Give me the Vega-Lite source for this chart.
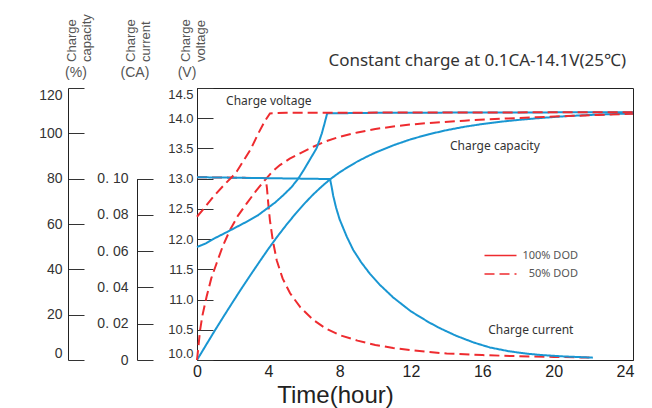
{
  "$schema": "https://vega.github.io/schema/vega-lite/v6.json",
  "width": 436,
  "height": 272,
  "autosize": {"type": "none"},
  "padding": {"left": 197, "top": 88, "right": 19, "bottom": 48},
  "background": "white",
  "config": {
    "view": {"stroke": "#222", "strokeWidth": 1},
    "axis": {"grid": false, "domainColor": "#222", "tickColor": "#333", "labelColor": "#333", "labelFont": "Liberation Sans"}
  },
  "datasets": {
    "capacity": [
      {"dod": "100% DOD", "t": 0, "value": 0}, {"dod": "100% DOD", "t": 0.5, "value": 6.5}, {"dod": "100% DOD", "t": 1, "value": 13}, {"dod": "100% DOD", "t": 1.5, "value": 19.3}, {"dod": "100% DOD", "t": 2, "value": 25.5}, {"dod": "100% DOD", "t": 2.5, "value": 31.6}, {"dod": "100% DOD", "t": 3, "value": 37.5}, {"dod": "100% DOD", "t": 3.5, "value": 43.3}, {"dod": "100% DOD", "t": 4, "value": 49}, {"dod": "100% DOD", "t": 4.5, "value": 54.4}, {"dod": "100% DOD", "t": 5, "value": 59.5}, {"dod": "100% DOD", "t": 5.5, "value": 64.3}, {"dod": "100% DOD", "t": 6, "value": 68.8}, {"dod": "100% DOD", "t": 6.5, "value": 72.9}, {"dod": "100% DOD", "t": 7, "value": 76.6}, {"dod": "100% DOD", "t": 7.46, "value": 79.7},
      {"dod": "100% DOD", "t": 8, "value": 82.8}, {"dod": "100% DOD", "t": 8.5, "value": 85.3}, {"dod": "100% DOD", "t": 9, "value": 87.6}, {"dod": "100% DOD", "t": 9.5, "value": 89.6}, {"dod": "100% DOD", "t": 10, "value": 91.5}, {"dod": "100% DOD", "t": 11, "value": 94.7}, {"dod": "100% DOD", "t": 12, "value": 97.4}, {"dod": "100% DOD", "t": 13, "value": 99.6}, {"dod": "100% DOD", "t": 14, "value": 101.4}, {"dod": "100% DOD", "t": 15, "value": 102.9}, {"dod": "100% DOD", "t": 16, "value": 104.1}, {"dod": "100% DOD", "t": 17, "value": 105.1}, {"dod": "100% DOD", "t": 18, "value": 105.9}, {"dod": "100% DOD", "t": 19, "value": 106.6}, {"dod": "100% DOD", "t": 20, "value": 107.2}, {"dod": "100% DOD", "t": 21, "value": 107.7}, {"dod": "100% DOD", "t": 22, "value": 108.1}, {"dod": "100% DOD", "t": 23, "value": 108.4}, {"dod": "100% DOD", "t": 24.45, "value": 108.8},
      {"dod": "50% DOD", "t": 0, "value": 0}, {"dod": "50% DOD", "t": 0.08, "value": 6}, {"dod": "50% DOD", "t": 0.17, "value": 13}, {"dod": "50% DOD", "t": 0.3, "value": 19.5}, {"dod": "50% DOD", "t": 0.54, "value": 28}, {"dod": "50% DOD", "t": 0.8, "value": 36}, {"dod": "50% DOD", "t": 1.1, "value": 42.7}, {"dod": "50% DOD", "t": 1.45, "value": 50.3}, {"dod": "50% DOD", "t": 1.85, "value": 57.4}, {"dod": "50% DOD", "t": 2.3, "value": 63.7}, {"dod": "50% DOD", "t": 2.79, "value": 69.1}, {"dod": "50% DOD", "t": 3.3, "value": 74.5}, {"dod": "50% DOD", "t": 3.81, "value": 79.4}, {"dod": "50% DOD", "t": 4.2, "value": 82.9}, {"dod": "50% DOD", "t": 4.65, "value": 86}, {"dod": "50% DOD", "t": 5.2, "value": 88.8}, {"dod": "50% DOD", "t": 5.78, "value": 91.2}, {"dod": "50% DOD", "t": 6.52, "value": 94.1}, {"dod": "50% DOD", "t": 7.2, "value": 96.4}, {"dod": "50% DOD", "t": 8, "value": 98.5}, {"dod": "50% DOD", "t": 9, "value": 100.4}, {"dod": "50% DOD", "t": 10, "value": 101.9}, {"dod": "50% DOD", "t": 11, "value": 103}, {"dod": "50% DOD", "t": 12, "value": 103.9}, {"dod": "50% DOD", "t": 13.25, "value": 104.7}, {"dod": "50% DOD", "t": 15, "value": 105.6}, {"dod": "50% DOD", "t": 17, "value": 106.4}, {"dod": "50% DOD", "t": 19, "value": 107.1}, {"dod": "50% DOD", "t": 20.73, "value": 107.6}, {"dod": "50% DOD", "t": 22.5, "value": 108.1}, {"dod": "50% DOD", "t": 24.45, "value": 108.6}
    ],
    "current": [
      {"dod": "50% DOD", "t": 0, "value": 0.1008}, {"dod": "50% DOD", "t": 3.85, "value": 0.1003}, {"dod": "50% DOD", "t": 3.92, "value": 0.095}, {"dod": "50% DOD", "t": 4.0, "value": 0.086}, {"dod": "50% DOD", "t": 4.09, "value": 0.077}, {"dod": "50% DOD", "t": 4.25, "value": 0.066}, {"dod": "50% DOD", "t": 4.47, "value": 0.055}, {"dod": "50% DOD", "t": 4.8, "value": 0.045}, {"dod": "50% DOD", "t": 5.22, "value": 0.0368}, {"dod": "50% DOD", "t": 5.8, "value": 0.029}, {"dod": "50% DOD", "t": 6.52, "value": 0.0221}, {"dod": "50% DOD", "t": 7.2, "value": 0.0175}, {"dod": "50% DOD", "t": 8, "value": 0.0137}, {"dod": "50% DOD", "t": 9, "value": 0.0107}, {"dod": "50% DOD", "t": 10, "value": 0.0083}, {"dod": "50% DOD", "t": 11, "value": 0.0066}, {"dod": "50% DOD", "t": 12, "value": 0.0054}, {"dod": "50% DOD", "t": 13, "value": 0.0044}, {"dod": "50% DOD", "t": 14, "value": 0.0036}, {"dod": "50% DOD", "t": 16, "value": 0.0027}, {"dod": "50% DOD", "t": 18, "value": 0.0021}, {"dod": "50% DOD", "t": 20, "value": 0.0017}, {"dod": "50% DOD", "t": 22.2, "value": 0.0013},
      {"dod": "100% DOD", "t": 0, "value": 0.1008}, {"dod": "100% DOD", "t": 3, "value": 0.1004}, {"dod": "100% DOD", "t": 7.46, "value": 0.0998}, {"dod": "100% DOD", "t": 7.55, "value": 0.0955}, {"dod": "100% DOD", "t": 7.64, "value": 0.0905}, {"dod": "100% DOD", "t": 7.8, "value": 0.084}, {"dod": "100% DOD", "t": 8, "value": 0.0775}, {"dod": "100% DOD", "t": 8.4, "value": 0.068}, {"dod": "100% DOD", "t": 8.76, "value": 0.0607}, {"dod": "100% DOD", "t": 9.2, "value": 0.054}, {"dod": "100% DOD", "t": 9.7, "value": 0.0475}, {"dod": "100% DOD", "t": 10.26, "value": 0.0414}, {"dod": "100% DOD", "t": 11, "value": 0.0345}, {"dod": "100% DOD", "t": 12, "value": 0.0268}, {"dod": "100% DOD", "t": 13, "value": 0.0208}, {"dod": "100% DOD", "t": 13.63, "value": 0.0175}, {"dod": "100% DOD", "t": 14.5, "value": 0.0135}, {"dod": "100% DOD", "t": 15.5, "value": 0.0097}, {"dod": "100% DOD", "t": 16.43, "value": 0.0069}, {"dod": "100% DOD", "t": 17.5, "value": 0.0048}, {"dod": "100% DOD", "t": 18.5, "value": 0.0035}, {"dod": "100% DOD", "t": 19.23, "value": 0.0028}, {"dod": "100% DOD", "t": 20.5, "value": 0.002}, {"dod": "100% DOD", "t": 21.5, "value": 0.0016}, {"dod": "100% DOD", "t": 22.2, "value": 0.0013}
    ],
    "voltage": [
      {"dod": "100% DOD", "t": 0, "value": 11.87}, {"dod": "100% DOD", "t": 0.5, "value": 11.93}, {"dod": "100% DOD", "t": 0.9, "value": 12.0}, {"dod": "100% DOD", "t": 1.7, "value": 12.12}, {"dod": "100% DOD", "t": 2.8, "value": 12.29}, {"dod": "100% DOD", "t": 3.4, "value": 12.39}, {"dod": "100% DOD", "t": 3.9, "value": 12.5}, {"dod": "100% DOD", "t": 4.4, "value": 12.61}, {"dod": "100% DOD", "t": 4.85, "value": 12.73}, {"dod": "100% DOD", "t": 5.3, "value": 12.86}, {"dod": "100% DOD", "t": 5.7, "value": 13.01}, {"dod": "100% DOD", "t": 6.0, "value": 13.15}, {"dod": "100% DOD", "t": 6.3, "value": 13.3}, {"dod": "100% DOD", "t": 6.5, "value": 13.4}, {"dod": "100% DOD", "t": 6.7, "value": 13.5}, {"dod": "100% DOD", "t": 6.85, "value": 13.62}, {"dod": "100% DOD", "t": 7.0, "value": 13.75}, {"dod": "100% DOD", "t": 7.15, "value": 13.91}, {"dod": "100% DOD", "t": 7.3, "value": 14.08}, {"dod": "100% DOD", "t": 10, "value": 14.09}, {"dod": "100% DOD", "t": 24.45, "value": 14.1},
      {"dod": "50% DOD", "t": 0, "value": 12.37}, {"dod": "50% DOD", "t": 0.45, "value": 12.53}, {"dod": "50% DOD", "t": 0.91, "value": 12.7}, {"dod": "50% DOD", "t": 1.5, "value": 12.89}, {"dod": "50% DOD", "t": 2.0, "value": 13.04}, {"dod": "50% DOD", "t": 2.23, "value": 13.12}, {"dod": "50% DOD", "t": 2.51, "value": 13.25}, {"dod": "50% DOD", "t": 3.0, "value": 13.48}, {"dod": "50% DOD", "t": 3.44, "value": 13.75}, {"dod": "50% DOD", "t": 3.8, "value": 13.95}, {"dod": "50% DOD", "t": 4.09, "value": 14.08}, {"dod": "50% DOD", "t": 5, "value": 14.09}, {"dod": "50% DOD", "t": 24.45, "value": 14.1}
    ],
    "axisTitles": [
      {"label": "Charge\ncapacity", "t": -7.02, "value": 131.5},
      {"label": "Charge\ncurrent", "t": -3.72, "value": 131.5},
      {"label": "Charge\nvoltage", "t": -0.6, "value": 131.5}
    ],
    "units": [
      {"label": "(%)", "t": -6.79, "value": 126.6},
      {"label": "(CA)", "t": -3.48, "value": 126.6},
      {"label": "(V)", "t": -0.56, "value": 126.6}
    ],
    "notes": [
      {"label": "Charge voltage", "t": 1.63, "value": 114.3},
      {"label": "Charge capacity", "t": 14.19, "value": 94.4},
      {"label": "Charge current", "t": 16.33, "value": 13.2}
    ],
    "heading": [
      {"label": "Constant charge at 0.1CA-14.1V(25℃)", "t": 24.06, "value": 129.7}
    ]
  },
  "layer": [
    {
      "data": {"name": "capacity"},
      "mark": {"type": "line", "strokeWidth": 2},
      "encoding": {
        "x": {"field": "t", "type": "quantitative", "title": "Time(hour)", "scale": {"domain": [0, 24.45], "nice": false, "zero": false},
              "axis": {"values": [0, 4, 8, 12, 16, 20, 24], "ticks": false, "labelFlush": false, "labelFontSize": 16, "labelPadding": 3, "labelColor": "#222", "titleFont": "Liberation Sans", "titleFontSize": 24, "titleFontWeight": "normal", "titleColor": "#222", "titleX": 138, "titleY": 42, "titleAlign": "center", "titleBaseline": "alphabetic"}},
        "y": {"field": "value", "type": "quantitative", "scale": {"domain": [0, 120], "nice": false},
              "axis": {"orient": "left", "offset": 129, "title": null, "values": [0, 20, 40, 60, 80, 100, 120], "tickSize": -16, "labelFlush": true, "labelPadding": 22, "labelFontSize": 14}},
        "color": {"condition": {"test": "datum.dod == '50% DOD'", "value": "#ee2b2f"}, "value": "#1996d2"},
        "strokeDash": {"field": "dod", "type": "nominal", "scale": {"domain": ["100% DOD", "50% DOD"], "range": [[1, 0], [10, 5]]},
              "legend": {"title": null, "orient": "none", "legendX": 298, "legendY": 162, "padding": 0, "symbolType": "M-4,0L4,0", "symbolSize": 64, "symbolStrokeColor": "#ee2b2f", "symbolStrokeWidth": 1.5, "symbolFillColor": "transparent", "labelFont": "Noto Sans", "labelFontSize": 11, "labelColor": "#555", "labelAlign": "right", "labelOffset": 72, "rowPadding": 6.6, "labelLimit": 200,
                         "encode": {"symbols": {"update": {"stroke": {"value": "#ee2b2f"}, "strokeWidth": {"value": 1.5}}}}}}
      }
    },
    {
      "data": {"name": "current"},
      "mark": {"type": "line", "strokeWidth": 2},
      "encoding": {
        "x": {"field": "t", "type": "quantitative", "title": "Time(hour)", "scale": {"domain": [0, 24.45], "nice": false, "zero": false},
              "axis": {"values": [0, 4, 8, 12, 16, 20, 24], "ticks": false, "labelFlush": false, "labelFontSize": 16, "labelPadding": 3, "labelColor": "#222", "titleFont": "Liberation Sans", "titleFontSize": 24, "titleFontWeight": "normal", "titleColor": "#222", "titleX": 138, "titleY": 42, "titleAlign": "center", "titleBaseline": "alphabetic"}},
        "y": {"field": "value", "type": "quantitative", "scale": {"domain": [0, 0.1], "nice": false, "range": [{"expr": "height"}, {"expr": "height/3"}]},
              "axis": {"orient": "left", "offset": 60, "title": null, "values": [0, 0.02, 0.04, 0.06, 0.08, 0.1], "labelExpr": "datum.value == 0 ? '0' : replace(format(datum.value, '.2f'), '.', '. ')", "tickSize": -16, "labelPadding": 25, "labelFontSize": 14}},
        "color": {"condition": {"test": "datum.dod == '50% DOD'", "value": "#ee2b2f"}, "value": "#1996d2"},
        "strokeDash": {"field": "dod", "type": "nominal", "scale": {"domain": ["100% DOD", "50% DOD"], "range": [[1, 0], [10, 5]]}}
      }
    },
    {
      "data": {"name": "voltage"},
      "mark": {"type": "line", "strokeWidth": 2},
      "encoding": {
        "x": {"field": "t", "type": "quantitative", "title": "Time(hour)", "scale": {"domain": [0, 24.45], "nice": false, "zero": false},
              "axis": {"values": [0, 4, 8, 12, 16, 20, 24], "ticks": false, "labelFlush": false, "labelFontSize": 16, "labelPadding": 3, "labelColor": "#222", "titleFont": "Liberation Sans", "titleFontSize": 24, "titleFontWeight": "normal", "titleColor": "#222", "titleX": 138, "titleY": 42, "titleAlign": "center", "titleBaseline": "alphabetic"}},
        "y": {"field": "value", "type": "quantitative", "scale": {"domain": [10, 14.5], "nice": false, "zero": false},
              "axis": {"orient": "left", "offset": 0, "title": null, "values": [10, 10.5, 11, 11.5, 12, 12.5, 13, 13.5, 14, 14.5], "format": ".1f", "tickSize": -16, "labelFlush": true, "labelPadding": 20, "labelFontSize": 13}},
        "color": {"condition": {"test": "datum.dod == '50% DOD'", "value": "#ee2b2f"}, "value": "#1996d2"},
        "strokeDash": {"field": "dod", "type": "nominal", "scale": {"domain": ["100% DOD", "50% DOD"], "range": [[1, 0], [10, 5]]}}
      }
    },
    {
      "data": {"name": "axisTitles"},
      "mark": {"type": "text", "angle": 270, "align": "left", "baseline": "middle", "lineBreak": "\n", "lineHeight": 15, "font": "Liberation Sans", "fontSize": 13, "color": "#555"},
      "encoding": {
        "x": {"field": "t", "type": "quantitative", "title": "Time(hour)", "scale": {"domain": [0, 24.45], "nice": false, "zero": false}},
        "y": {"field": "value", "type": "quantitative", "scale": {"domain": [0, 120], "nice": false}, "axis": null},
        "text": {"field": "label"}
      }
    },
    {
      "data": {"name": "units"},
      "mark": {"type": "text", "align": "center", "baseline": "middle", "font": "Liberation Sans", "fontSize": 14, "color": "#555"},
      "encoding": {
        "x": {"field": "t", "type": "quantitative", "title": "Time(hour)", "scale": {"domain": [0, 24.45], "nice": false, "zero": false}},
        "y": {"field": "value", "type": "quantitative", "scale": {"domain": [0, 120], "nice": false}, "axis": null},
        "text": {"field": "label"}
      }
    },
    {
      "data": {"name": "notes"},
      "mark": {"type": "text", "align": "left", "baseline": "middle", "font": "Noto Sans", "fontSize": 12, "color": "#333"},
      "encoding": {
        "x": {"field": "t", "type": "quantitative", "title": "Time(hour)", "scale": {"domain": [0, 24.45], "nice": false, "zero": false}},
        "y": {"field": "value", "type": "quantitative", "scale": {"domain": [0, 120], "nice": false}, "axis": null},
        "text": {"field": "label"}
      }
    },
    {
      "data": {"name": "heading"},
      "mark": {"type": "text", "align": "right", "baseline": "alphabetic", "font": "Noto Sans", "fontSize": 17, "color": "#333"},
      "encoding": {
        "x": {"field": "t", "type": "quantitative", "title": "Time(hour)", "scale": {"domain": [0, 24.45], "nice": false, "zero": false}},
        "y": {"field": "value", "type": "quantitative", "scale": {"domain": [0, 120], "nice": false}, "axis": null},
        "text": {"field": "label"}
      }
    }
  ],
  "resolve": {"scale": {"y": "independent"}}
}
